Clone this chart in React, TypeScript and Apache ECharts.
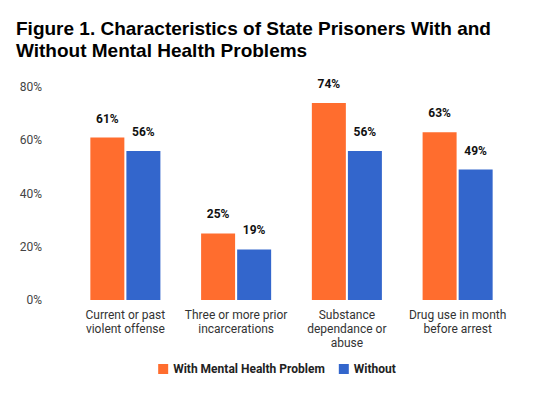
import React, { useEffect, useRef } from "react";
import * as echarts from "echarts";

const categories = [
  "Current or past\nviolent offense",
  "Three or more prior\nincarcerations",
  "Substance\ndependance or\nabuse",
  "Drug use in month\nbefore arrest",
];
const withProblem = [61, 25, 74, 63];
const without = [56, 19, 56, 49];
const seriesNames = ["With Mental Health Problem", "Without"];

export default function App() {
  const ref = useRef<HTMLDivElement>(null);
  useEffect(() => {
    const chart = echarts.init(ref.current!, null, { renderer: "svg" });
    const label = {
      show: true,
      position: "top",
      distance: 13,
      formatter: "{c}%",
      fontFamily: "Roboto, Arial, sans-serif",
      fontWeight: "bold",
      fontSize: 12,
      color: "#111",
    };
    chart.setOption({
      animation: false,
      title: {
        text: "Figure 1. Characteristics of State Prisoners With and\nWithout Mental Health Problems",
        left: 3,
        top: 4,
        textStyle: {
          fontFamily: "Liberation Sans, Arial, sans-serif",
          fontWeight: "bold",
          fontSize: 19,
          lineHeight: 22,
          color: "#000",
        },
      },
      legend: {
        top: 350,
        left: "center",
        itemWidth: 10,
        itemHeight: 10,
        itemGap: 14,
        icon: "rect",
        textStyle: {
          fontFamily: "Roboto, Arial, sans-serif",
          fontWeight: "bold",
          fontSize: 12,
          color: "#222",
        },
        data: seriesNames,
      },
      grid: { left: 62, right: 33, top: 79, bottom: 86 },
      xAxis: {
        type: "category",
        data: categories,
        axisLine: { show: false },
        axisTick: { show: false },
        axisLabel: {
          interval: 0,
          margin: 8,
          fontFamily: "Roboto, Arial, sans-serif",
          fontSize: 12,
          lineHeight: 14,
          color: "#333",
        },
      },
      yAxis: {
        type: "value",
        min: 0,
        max: 80,
        interval: 20,
        splitLine: { show: false },
        axisLine: { show: false },
        axisTick: { show: false },
        axisLabel: {
          formatter: "{value}%",
          margin: 28,
          fontFamily: "Roboto, Arial, sans-serif",
          fontSize: 12,
          color: "#444",
        },
      },
      series: [
        {
          name: seriesNames[0],
          type: "bar",
          data: withProblem,
          barWidth: 34,
          barGap: "6%",
          itemStyle: { color: "#FF6D2E" },
          label,
        },
        {
          name: seriesNames[1],
          type: "bar",
          data: without,
          barWidth: 34,
          itemStyle: { color: "#3366CC" },
          label,
        },
      ],
    });
    return () => chart.dispose();
  }, []);
  return <div ref={ref} style={{ width: 538, height: 378 }} />;
}
